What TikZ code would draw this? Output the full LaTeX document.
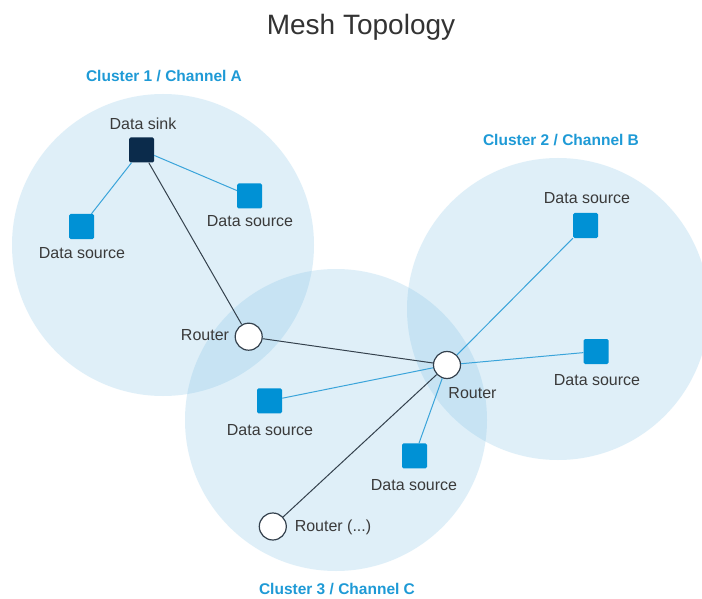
\documentclass[tikz,border=0pt]{standalone}
\usepackage{fontspec}
\setmainfont{Liberation Sans}
\definecolor{srcblue}{HTML}{0091D5}
\definecolor{sinkblue}{HTML}{0B2B4B}
\definecolor{lineblue}{HTML}{3AA4DA}
\definecolor{linedark}{HTML}{34414D}
\definecolor{clusterfill}{RGB}{120,190,229}
\definecolor{labelblue}{HTML}{1E9AD6}
\definecolor{txt}{HTML}{3A3A3A}
\begin{document}
\begin{tikzpicture}[x=1pt,y=-1pt,
  cluster/.style={circle, fill=clusterfill, fill opacity=0.23, minimum size=302pt, inner sep=0pt},
  src/.style={rectangle, fill=srcblue, minimum size=25pt, inner sep=0pt, rounded corners=1.5pt},
  sink/.style={src, fill=sinkblue},
  router/.style={circle, draw=linedark, fill=white, line width=1.2pt, minimum size=27pt, inner sep=0pt},
  lbl/.style={text=txt, font=\fontsize{16}{19}\selectfont, inner sep=0pt},
  clbl/.style={text=labelblue, font=\fontsize{15.5}{18}\selectfont\bfseries, inner sep=0pt},
  bl/.style={draw=lineblue, line width=1pt},
  dl/.style={draw=linedark, line width=1pt}]
\useasboundingbox[fill=white] (0,0) rectangle (702,599);
% clusters
\node[cluster] (c1) at (163,245) {};
\node[cluster] (c2) at (558,309) {};
\node[cluster] (c3) at (336,420) {};
% titles
\node[text=black!80, font=\fontsize{28}{32}\selectfont, inner sep=0pt] (title) at (361,27) {Mesh Topology};
\node[clbl] (l1) at (164,76) {Cluster 1 / Channel A};
\node[clbl] (l2) at (561,140) {Cluster 2 / Channel B};
\node[clbl] (l3) at (337,589) {Cluster 3 / Channel C};
% nodes
\node[sink] (sink) at (141.5,150) {};
\node[src] (s1a) at (81.5,226.5) {};
\node[src] (s1b) at (249.7,196) {};
\node[router] (r1) at (248.7,336.7) {};
\node[router] (r2) at (447,365) {};
\node[src] (s2a) at (585.5,225.5) {};
\node[src] (s2b) at (596,351.5) {};
\node[src] (s3a) at (269.5,400.8) {};
\node[src] (s3b) at (414.5,455.8) {};
\node[router] (r3) at (272.8,526.5) {};
% labels
\node[lbl] (tsink) at (143,124) {Data sink};
\node[lbl] (ts1a) at (82,253) {Data source};
\node[lbl] (ts1b) at (250,221) {Data source};
\node[lbl] (tr1) at (205,335.5) {Router};
\node[lbl] (tr2) at (472.5,393) {Router};
\node[lbl] (ts2a) at (587,198) {Data source};
\node[lbl] (ts2b) at (597,380.5) {Data source};
\node[lbl] (ts3a) at (270,430.5) {Data source};
\node[lbl] (ts3b) at (414,485) {Data source};
\node[lbl] (tr3) at (333,527) {Router (...)};
% connectors
\draw[bl] (sink) -- (s1a);
\draw[bl] (sink) -- (s1b);
\draw[dl] (sink) -- (r1);
\draw[dl] (r1) -- (r2);
\draw[bl] (r2) -- (s2a);
\draw[bl] (r2) -- (s2b);
\draw[bl] (r2) -- (s3a);
\draw[bl] (r2) -- (s3b);
\draw[dl] (r2) -- (r3);
\end{tikzpicture}
\end{document}
